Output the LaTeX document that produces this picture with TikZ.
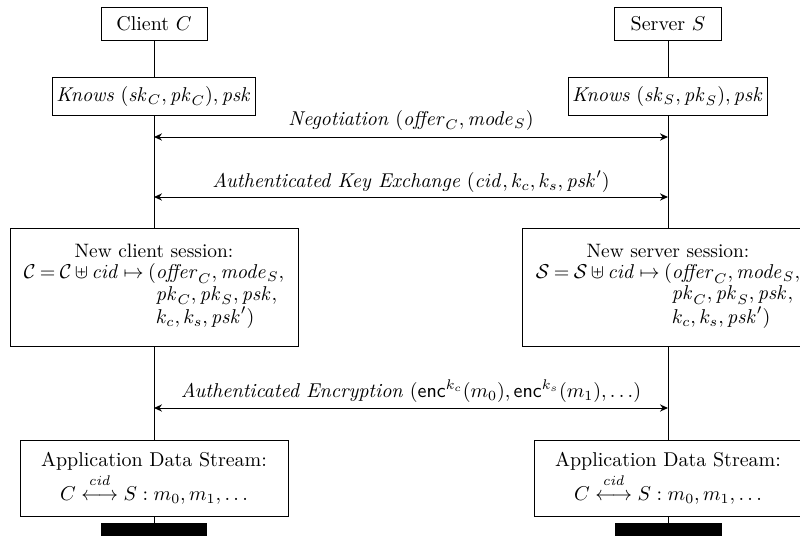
\documentclass[tikz,border=0pt]{standalone}
\usepackage{amsmath,amssymb}
\usetikzlibrary{arrows.meta}
\newcommand{\cidarrow}{\mathrel{\overset{\raisebox{1.5pt}{$\scriptstyle\mathit{cid}$}}{\longleftrightarrow}}}
\begin{document}
\begin{tikzpicture}[x=0.5pt,y=-0.5pt,
  box/.style={draw, line width=0.5pt, inner sep=2pt, align=center},
  sessbox/.style={box, font=\fontsize{9.7}{11.5}\selectfont},
  life/.style={line width=0.5pt},
  msg/.style={line width=0.5pt, {Stealth[length=4pt,width=3.6pt]}-{Stealth[length=4pt,width=3.6pt]}},
  lbl/.style={inner sep=0pt, anchor=base},
  endbar/.style={fill=black, inner sep=0pt, minimum height=17pt}]
\useasboundingbox (0,0) rectangle (800,536);
\clip (0,0) rectangle (800,536);
% heads
\node[box, minimum width=53pt, minimum height=16.5pt] (client) at (154,23.5) {Client $C$};
\node[box, minimum width=53.5pt, minimum height=16.5pt] (server) at (668,23.5) {Server $S$};
% knows
\node[box, minimum width=99pt, minimum height=19pt] (knowsC) at (154,96) {\textit{Knows} $(\mathit{sk}_C,\mathit{pk}_C),\mathit{psk}$};
\node[box, minimum width=96.5pt, minimum height=19pt] (knowsS) at (668,96) {\textit{Knows} $(\mathit{sk}_S,\mathit{pk}_S),\mathit{psk}$};
% sessions
\node[sessbox, minimum width=144pt, minimum height=59pt] (sessC) at (154,287) {New client session:\\[-1pt]
  $\thickmuskip=4mu\medmuskip=3mu\renewcommand\arraystretch{0.92}\begin{array}[t]{@{}r@{}l@{}}\mathcal{C}=\mathcal{C}\uplus\mathit{cid}\mapsto(&\mathit{offer}_C,\mathit{mode}_S,\\ &\mathit{pk}_C,\mathit{pk}_S,\mathit{psk},\\ &k_c,k_s,\mathit{psk}')\end{array}$};
\node[sessbox, minimum width=146pt, minimum height=59pt] (sessS) at (668,287) {New server session:\\[-1pt]
  $\thickmuskip=4mu\medmuskip=3mu\renewcommand\arraystretch{0.92}\begin{array}[t]{@{}r@{}l@{}}\mathcal{S}=\mathcal{S}\uplus\mathit{cid}\mapsto(&\mathit{offer}_C,\mathit{mode}_S,\\ &\mathit{pk}_C,\mathit{pk}_S,\mathit{psk},\\ &k_c,k_s,\mathit{psk}')\end{array}$};
% application data
\node[box, minimum width=134pt, minimum height=38pt] (appC) at (154,478) {Application Data Stream:\\[1pt] $C\cidarrow S:m_0,m_1,\ldots$};
\node[box, minimum width=134pt, minimum height=38pt] (appS) at (668,478) {Application Data Stream:\\[1pt] $C\cidarrow S:m_0,m_1,\ldots$};
% end bars
\node[endbar, minimum width=53pt] (barC) at (154,540) {};
\node[endbar, minimum width=53.5pt] (barS) at (668,540) {};
% lifelines
\draw[life] (client) -- (knowsC) -- (sessC) -- (appC) -- (barC);
\draw[life] (server) -- (knowsS) -- (sessS) -- (appS) -- (barS);
% messages
\coordinate (c1) at (154,137); \coordinate (s1) at (668,137);
\coordinate (c2) at (154,197); \coordinate (s2) at (668,197);
\coordinate (c3) at (154,408); \coordinate (s3) at (668,408);
\draw[msg] (c1) -- (s1);
\draw[msg] (c2) -- (s2);
\draw[msg] (c3) -- (s3);
\node[lbl] (l1) at (411,125) {\textit{Negotiation} $(\mathit{offer}_C,\mathit{mode}_S)$};
\node[lbl] (l2) at (411,187) {\textit{Authenticated Key Exchange} $(\mathit{cid},k_c,k_s,\mathit{psk}')$};
\node[lbl] (l3) at (411,397) {\textit{Authenticated Encryption} $(\mathsf{enc}^{k_c}(m_0),\mathsf{enc}^{k_s}(m_1),\ldots)$};
\end{tikzpicture}
\end{document}
